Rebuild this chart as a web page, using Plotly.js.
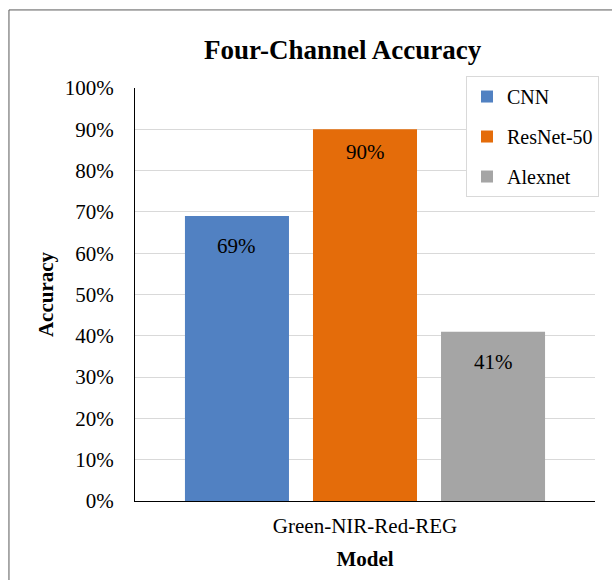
<!DOCTYPE html>
<html>
<head>
<meta charset="utf-8">
<script src="https://cdn.plot.ly/plotly-3.0.1.min.js"></script>
<style>
  html, body { margin: 0; padding: 0; background: #ffffff; }
  #chart { width: 612px; height: 580px; }
</style>
</head>
<body>
<div id="chart"></div>
<script>
// Four-channel input: accuracy per model
const categories = ["Green-NIR-Red-REG"];
const models = ["CNN", "ResNet-50", "Alexnet"];
const accuracy = [0.69, 0.90, 0.41];
const colors = ["#5181c2", "#e46c0a", "#a5a5a5"];
const yTickVals = [0, 0.1, 0.2, 0.3, 0.4, 0.5, 0.6, 0.7, 0.8, 0.9, 1.0];
const yTickText = ["0%", "10%", "20%", "30%", "40%", "50%", "60%", "70%", "80%", "90%", "100%"];

const serif = "Liberation Serif, Times New Roman, serif";
const fs = 21;

const traces = models.map((m, i) => ({
  type: "bar",
  name: m,
  x: categories,
  y: [accuracy[i]],
  marker: { color: colors[i] },
  legendgroup: m,
  hoverinfo: "none"
}));

// value labels sit just below the top of each bar
const nBars = models.length;
const bargap = 0.165;
const slot = (1 - bargap) / nBars;
const labelDrop = [-30, -23, -30];
const annotations = models.map((m, i) => ({
  x: (i - (nBars - 1) / 2) * slot,
  xref: "x",
  y: accuracy[i],
  yref: "y",
  text: Math.round(accuracy[i] * 100) + "%",
  showarrow: false,
  yanchor: "middle",
  yshift: labelDrop[i],
  font: { family: serif, size: fs, color: "#000000" }
}));

const layout = {
  width: 612,
  height: 580,
  margin: { l: 135, r: 17, t: 88, b: 79 },
  paper_bgcolor: "#ffffff",
  plot_bgcolor: "#ffffff",
  font: { family: serif, size: fs, color: "#000000" },
  title: {
    text: "<b>Four-Channel Accuracy</b>",
    font: { family: serif, size: 27, color: "#000000" },
    x: 0.56, xref: "container", xanchor: "center",
    y: 0.914, yref: "container", yanchor: "middle"
  },
  barmode: "group",
  bargap: bargap,
  bargroupgap: 0.1875,
  xaxis: {
    type: "category",
    range: [-0.5, 0.5],
    showline: true, linecolor: "#000000", linewidth: 1,
    showgrid: false, ticks: "",
    ticklabelstandoff: 6,
    tickfont: { family: serif, size: fs, color: "#000000" },
    title: { text: "<b>Model</b>", font: { family: serif, size: fs, color: "#000000" }, standoff: 14 }
  },
  yaxis: {
    range: [0, 1],
    tickvals: yTickVals,
    ticktext: yTickText,
    showline: true, linecolor: "#000000", linewidth: 1,
    showgrid: true, gridcolor: "#d9d9d9", gridwidth: 1,
    zeroline: false, ticks: "", ticklen: 0,
    ticklabelstandoff: 16,
    tickfont: { family: serif, size: fs, color: "#000000" },
    title: { text: "<b>Accuracy</b>", font: { family: serif, size: fs, color: "#000000" }, standoff: 5 }
  },
  legend: {
    x: 0.7196, xref: "paper", xanchor: "left",
    y: 1.029, yref: "paper", yanchor: "top",
    bgcolor: "#ffffff",
    bordercolor: "#d9d9d9", borderwidth: 1,
    traceorder: "grouped",
    tracegroupgap: 11,
    itemwidth: 30,
    font: { family: serif, size: 20, color: "#000000" }
  },
  annotations: annotations,
  shapes: [{
    type: "rect", xref: "paper", yref: "paper",
    x0: -0.274, x1: 1.2, y0: -0.4, y1: 1.189,
    line: { color: "#595959", width: 1 },
    fillcolor: "rgba(0,0,0,0)",
    layer: "above"
  }]
};

Plotly.newPlot("chart", traces, layout, { displayModeBar: false, staticPlot: true });
</script>
</body>
</html>
